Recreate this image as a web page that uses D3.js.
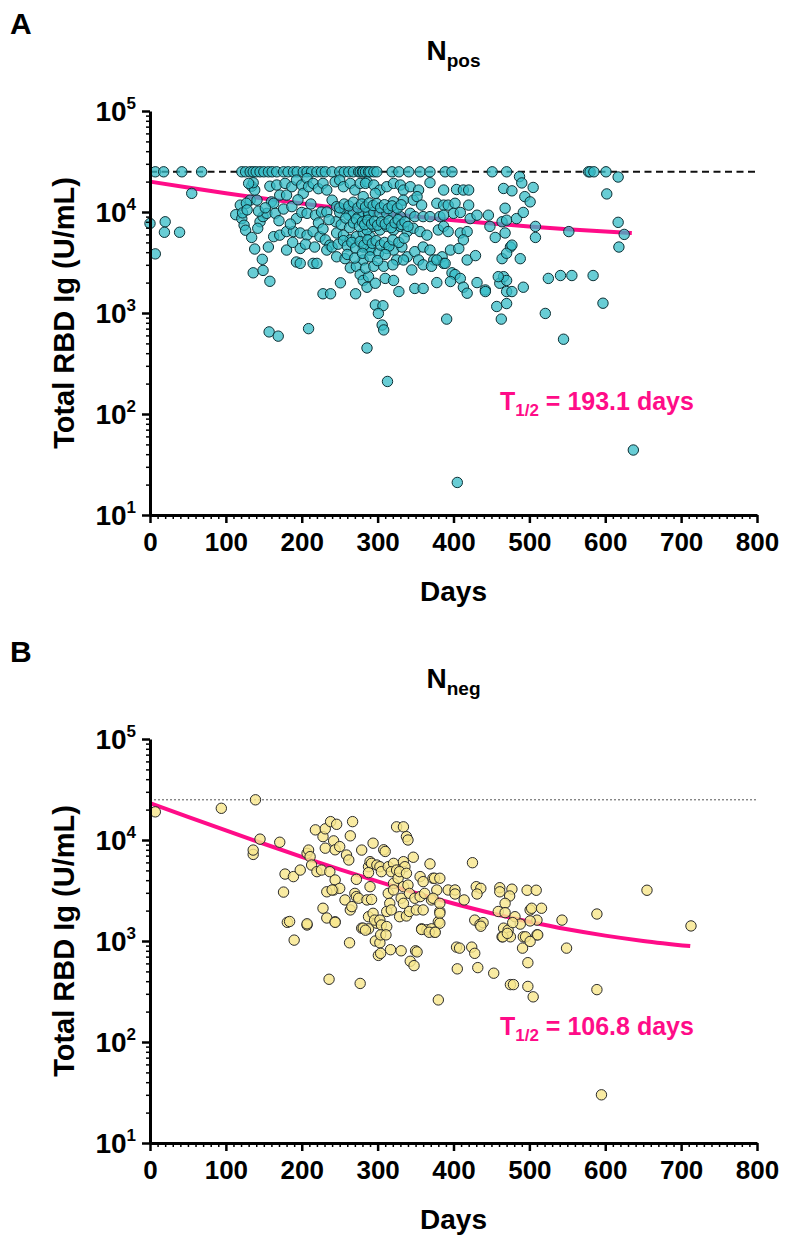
<!DOCTYPE html>
<html><head><meta charset="utf-8">
<script src="https://cdn.jsdelivr.net/npm/d3@7"></script>
<style>
body{margin:0;background:#fff}
svg{display:block}
text{font-family:"Liberation Sans",Arial,Helvetica,sans-serif;font-weight:bold;fill:#000}
</style>
</head><body>
<svg id="chart" width="794" height="1247"></svg>
<script>
// ---------- data (days, total RBD Ig U/mL) ----------
const pointsA = [
 [7,25000],[18,25000],[42,25000],[68,25000],[121,25000],[126,25000],[132,25000],[136,25000],[140,25000],[145,25000],[150,25000],[156,25000],[161,25000],[167,25000],[176,25000],[182,25000],[189,25000],[194,25000],[202,25000],[207,25000],[213,25000],[220,25000],[226,25000],[231,25000],[240,25000],[250,25000],[256,25000],[262,25000],[268,25000],[275,25000],[277,25000],[280,25000],[281,25000],[284,25000],[288,25000],[290,25000],[295,25000],[299,25000],[319,25000],[328,25000],[341,25000],[356,25000],[369,25000],[389,25000],[398,25000],[451,25000],[470,25000],[578,25000],[580,25000],[585,25000],[601,25000],
 [55,15300],[0,7700],[20,8000],[19,6300],[39,6300],[7,3850],
 [113,9400],[119,11700],[121,8600],[124,7400],[126,6600],[134,5600],[138,4300],[148,3400],[136,2500],[149,2640],[158,2060],[157,650],[169,590],[209,700],[228,1550],[238,1550],[251,1990],[271,1550],[286,450],
 [132,13100],[127,12200],[141,13100],[134,18000],[138,16500],[136,19500],[130,19200],[145,8000],[149,9000],[154,9700],[160,12600],[163,12200],[158,18000],[167,18500],[171,14700],[178,19200],[180,14700],[187,17800],[193,20700],[200,18500],[202,15300],[207,21500],[209,17800],[215,19200],[222,17000],[228,19200],[233,16500],[244,19900],[250,20700],[255,17800],[264,19200],[270,16500],[277,19200],[286,19900],
 [165,9700],[176,10700],[187,11300],[193,8600],[200,9900],[207,9700],[218,9300],[226,10000],[233,10000],[240,13100],[246,11300],[250,9900],[257,10600],[262,9300],[268,9900],[275,9000],[281,9700],[288,9000],
 [163,5700],[171,5900],[180,6400],[189,6400],[198,6200],[207,5900],[215,6400],[224,5700],[231,5300],[237,4700],[246,6200],[255,5900],[264,5300],[272,5700],[281,6200],[290,5700],
 [156,4500],[180,4200],[198,4350],[193,3200],[198,3100],[215,3100],[220,3100],[233,4200],[240,4500],[246,3600],[257,3450],[264,2800],[272,2900],[281,3350],[290,4200],[277,2400],[281,2100],[288,2290],
 [369,19500],[487,22400],[490,19400],
 [284,19200],[295,18500],[303,16500],[312,17800],[321,19200],[330,18500],[334,16500],[343,17800],[354,16500],[387,16500],[404,16700],[413,16500],[420,16500],[466,17100],[477,16200],[494,14200],[505,17500],
 [281,14200],[297,15300],[321,12600],[334,13100],[347,13100],[352,14200],[358,11700],[378,12200],[387,11700],[393,11700],[402,12200],[420,11700],[468,10900],[501,12600],
 [288,9900],[295,10000],[303,9700],[312,9700],[321,9900],[330,9000],[343,9700],[349,9000],[360,9000],[369,9000],[382,9000],[387,9300],[400,9700],[409,9900],[422,8600],[431,9300],[446,9300],[448,7200],[464,8000],[470,8300],[483,8600],[492,9900],[508,7200],[552,6400],
 [286,6640],[295,7200],[303,6640],[312,7200],[321,6640],[330,7200],[339,6400],[347,6900],[356,6400],[365,5900],[380,6640],[387,7200],[393,6400],[409,6200],[418,6400],[413,5300],[455,5600],[468,6200],[475,4500],[508,5600],
 [281,4500],[290,4200],[301,3900],[312,4350],[321,4200],[332,4500],[339,3600],[349,4050],[354,3350],[360,4500],[369,4200],[374,3350],[385,3600],[387,3100],[396,4200],[407,4350],[418,3350],[429,3700],[464,3450],[470,3900],[488,3450],[477,4700],
 [284,2780],[295,2900],[308,2900],[325,3350],[334,3350],[345,2670],[360,3000],[371,2900],[378,3350],[389,3100],[398,2500],[402,2400],[409,2200],[431,2000],[442,1690],[461,1970],[466,2290],[470,2100],[459,2290],[492,1800],[525,2200],[541,2350],[556,2350],
 [286,1800],[297,1970],[310,2200],[321,2100],[328,1630],[349,1750],[360,1750],[378,2000],[396,2050],[413,1800],[418,1570],[442,1630],[470,1630],[477,1630],
 [297,1200],[307,1180],[301,990],[306,760],[308,680],[391,870],[457,1160],[470,1240],[463,870],[521,990],[545,550],
 [602,15100],[617,22200],[617,7900],[625,6000],[618,4500],[584,2350],[597,1250],
 [313,210],[405,21],[637,44],
 [245,8000],[252,7500],[258,8700],[263,7000],[268,7800],[272,8500],[276,7200],[280,8000],[283,7500],[287,8300],[292,7600],[296,8100],[300,7400],[305,8000],[310,7600],[315,8200],[318,7000],[323,7800],[327,8400],[332,7500],[336,8000],[340,7200],
 [250,11000],[256,12000],[262,11500],[268,12500],[274,11000],[279,12000],[284,11200],[289,12300],[294,11600],[299,12100],[304,11000],[309,11800],[314,10800],[319,11500],[326,10900],[331,11800],
 [248,4800],[255,5200],[260,4600],[266,5000],[271,4400],[277,5100],[282,4700],[287,5300],[293,4900],[298,5200],[304,4700],[309,5000],[315,4600],[320,5300],[328,5000],[335,5500],
 [260,3800],[270,3500],[280,3900],[290,3600],[300,3300],[310,3800],[320,3000],
 [122,9800],[128,10500],[143,10200],[152,11000],[170,8200],[185,7600],[195,13200],[212,12000],[222,7800],[236,8400],[188,5000],[205,4800],[217,4500],[228,6800],[142,6900]
];
const pointsB = [
 [7,19000],[94,20600],[139,25000],[145,10200],[136,7200],[136,7950],[171,9500],[178,4600],[176,3050],[181,1530],[207,1440],[189,4340],[198,5040],[207,7380],[209,7950],[211,6840],[213,5650],[218,12600],[220,4860],[226,5040],[228,10800],[231,12900],[231,8300],[238,15200],[246,14300],[242,9800],[244,8000],[250,8600],[237,4860],[244,4020],[242,3200],[233,3070],[250,3320],[240,3200],[228,2110],[233,1690],[244,1550],[257,2550],[259,7100],[262,6340],[264,11000],[267,15200],[264,2030],[266,2190],[270,2960],[272,2750],[275,2650],[272,4080],[279,7950],[288,5440],[290,6100],[292,5870],[299,5650],[294,9300],[288,4750],[290,3450],[286,2550],[292,2580],[288,1740],[294,1880],[279,1340],[288,1320],[299,1500],[296,1610],[303,1610],[305,1440],[312,1390],[308,8000],[310,7700],[303,5440],[305,4860],[314,5440],[321,5870],[318,4860],[325,5040],[321,3720],[327,4180],[314,2960],[321,3200],[316,2360],[312,1960],[318,2030],[325,13500],[334,13500],[338,10800],[340,10000],[347,6750],[334,6100],[336,5440],[329,4860],[338,4680],[334,3450],[340,3580],[331,2650],[334,2360],[342,2960],[329,1740],[338,1770],[342,1960],[349,2650],[351,2030],[356,4340],[360,3870],[356,2750],[362,2960],[360,2030],[369,5800],[373,4180],[375,4180],[378,3200],[371,2550],[373,2650],[382,1960],[380,1550],[358,1320],[365,1290],[371,1320],[375,1220],
 [425,5960],[382,4180],[393,3200],[402,3200],[402,2920],[414,2550],[430,3450],[436,3320],[431,2920],[461,3370],[461,3070],[477,3260],[474,2790],[497,3180],[509,3180],[468,2360],[459,1960],[468,1910],[481,1740],[488,1470],[501,2030],[503,2110],[516,2110],[510,1610],[501,1580],[543,1610],[589,1850],[655,3180],[713,1410],[428,1610],[435,1460],[439,1520],[466,1340],[472,1280],[464,1100],[475,1100],[492,1100],[510,1150],[382,2360],[382,1880],[382,1500],
 [184,1560],[190,1020],[207,1480],[244,1530],[236,418],[263,960],[277,380],[281,1340],[284,1280],[297,1000],[303,960],[301,720],[304,755],[304,1150],[311,1150],[317,820],[331,800],[343,630],[348,570],[350,800],[352,780],[358,1300],[368,1220],[376,1220],[380,261],[404,870],[408,850],[405,530],[424,870],[428,755],[432,545],[436,1400],[453,480],[465,1100],[475,370],[479,370],[491,850],[495,1100],[498,610],[501,990],[498,355],[505,280],[511,1150],[549,850],[589,330],[595,30],[471,1190],[478,1520]
];
// fitted decay curves
const fitDaysA = [0,50,100,150,200,250,300,350,400,450,500,550,600,635];
const fitA     = [20000,17475,15360,13600,12130,10895,9870,9006,8290,7686,7180,6764,6410,6200];
const fitDaysB = [0,50,100,150,200,250,300,350,400,450,500,550,600,650,712];
const fitB     = [23200,16960,12440,9180,6820,5120,3890,2995,2350,1884,1550,1305,1130,1002,890];
const upperLimit = 25000;
const titles = [["N","pos"],["N","neg"]];
const halfLives = ["193.1","106.8"];
const panelLetters = ["A","B"];
const xTicks = [0,100,200,300,400,500,600,700,800];
const yExponents = [1,2,3,4,5];

// ---------- drawing ----------
const svg = d3.select("#chart");
const pink = "#ff0c88";
const panels = [
  {top:111, bottom:515, pts:pointsA, fd:fitDaysA, fv:fitA, fill:"#36bcc7", fo:0.75, stroke:"#0c2f34", dash:"7,4.5", dw:2, dc:"#111"},
  {top:739, bottom:1143, pts:pointsB, fd:fitDaysB, fv:fitB, fill:"#f8e68e", fo:0.82, stroke:"#2a2a2a", dash:"2,2", dw:1, dc:"#555"}
];
const X0 = 150, X1 = 757;

panels.forEach((p, i) => {
  const x = d3.scaleLinear().domain([0, 800]).range([X0, X1]);
  const y = d3.scaleLog().domain([10, 1e5]).range([p.bottom, p.top]);
  const g = svg.append("g");

  // panel letter
  g.append("text").attr("x", 10).attr("y", p.top - 77).attr("font-size", 30).text(panelLetters[i]);
  // title
  const t = g.append("text").attr("x", (X0 + X1) / 2).attr("y", p.top - 51)
    .attr("text-anchor", "middle").attr("font-size", 28);
  t.append("tspan").text(titles[i][0]);
  t.append("tspan").attr("font-size", 19).attr("dy", 7).text(titles[i][1]);

  // upper limit line
  g.append("line").attr("x1", x(0)).attr("x2", x(800)).attr("y1", y(upperLimit)).attr("y2", y(upperLimit))
    .attr("stroke", p.dc).attr("stroke-width", p.dw).attr("stroke-dasharray", p.dash);

  // fit line
  const line = d3.line().x((d, k) => x(p.fd[k])).y(d => y(d)).curve(d3.curveMonotoneX);
  g.append("path").attr("d", line(p.fv)).attr("fill", "none").attr("stroke", pink).attr("stroke-width", 4);

  // points
  g.append("g").selectAll("circle").data(p.pts).join("circle")
    .attr("cx", d => x(d[0])).attr("cy", d => y(d[1])).attr("r", 5.2)
    .attr("fill", p.fill).attr("fill-opacity", p.fo)
    .attr("stroke", p.stroke).attr("stroke-width", 1);

  // x axis
  const minorX = d3.range(10, 800, 10).filter(v => v % 100 !== 0);
  g.append("g").attr("transform", `translate(0,${p.bottom})`)
    .call(d3.axisBottom(x).tickValues(minorX).tickSize(4).tickSizeOuter(0).tickFormat(""))
    .call(s => s.select(".domain").remove())
    .call(s => s.selectAll("line").attr("stroke-width", 1.5));
  g.append("g").attr("transform", `translate(0,${p.bottom})`)
    .call(d3.axisBottom(x).tickValues(xTicks).tickSize(8).tickSizeOuter(0).tickPadding(10))
    .call(s => s.select(".domain").attr("stroke-width", 3))
    .call(s => s.selectAll("line").attr("stroke-width", 2.5))
    .call(s => s.selectAll("text").attr("font-size", 26).attr("font-family", "Liberation Sans, Arial, sans-serif").attr("font-weight", "bold").attr("fill", "#000"));

  // y axis
  const minorY = [];
  for (let e = 1; e < 5; e++) for (let m = 2; m < 10; m++) minorY.push(m * Math.pow(10, e));
  g.append("g").attr("transform", `translate(${X0},0)`)
    .call(d3.axisLeft(y).tickValues(minorY).tickSize(4).tickSizeOuter(0).tickFormat(""))
    .call(s => s.select(".domain").remove())
    .call(s => s.selectAll("line").attr("stroke-width", 1.5));
  g.append("g").attr("transform", `translate(${X0},0)`)
    .call(d3.axisLeft(y).tickValues(yExponents.map(e => Math.pow(10, e))).tickSize(8).tickSizeOuter(0).tickFormat(""))
    .call(s => s.select(".domain").attr("stroke-width", 3))
    .call(s => s.selectAll("line").attr("stroke-width", 2.5));
  yExponents.forEach(e => {
    const tt = g.append("text").attr("x", X0 - 14).attr("y", y(Math.pow(10, e)) + 10)
      .attr("text-anchor", "end").attr("font-size", 28);
    tt.append("tspan").text("10");
    tt.append("tspan").attr("font-size", 17).attr("dy", -12).text(e);
  });

  // axis titles
  g.append("text").attr("x", (X0 + X1) / 2).attr("y", p.bottom + 86).attr("text-anchor", "middle")
    .attr("font-size", 28).text("Days");
  g.append("text").attr("transform", `translate(74,${(p.top + p.bottom) / 2}) rotate(-90)`)
    .attr("text-anchor", "middle").attr("font-size", 29).text("Total RBD Ig (U/mL)");

  // half-life annotation
  const h = g.append("text").attr("x", 500).attr("y", p.bottom - (i === 0 ? 105 : 108)).attr("font-size", 25).style("fill", pink);
  h.append("tspan").text("T");
  h.append("tspan").attr("font-size", 17).attr("dy", 6).text("1/2");
  h.append("tspan").attr("dy", -6).text(" = " + halfLives[i] + " days");
});
</script>
</body></html>
